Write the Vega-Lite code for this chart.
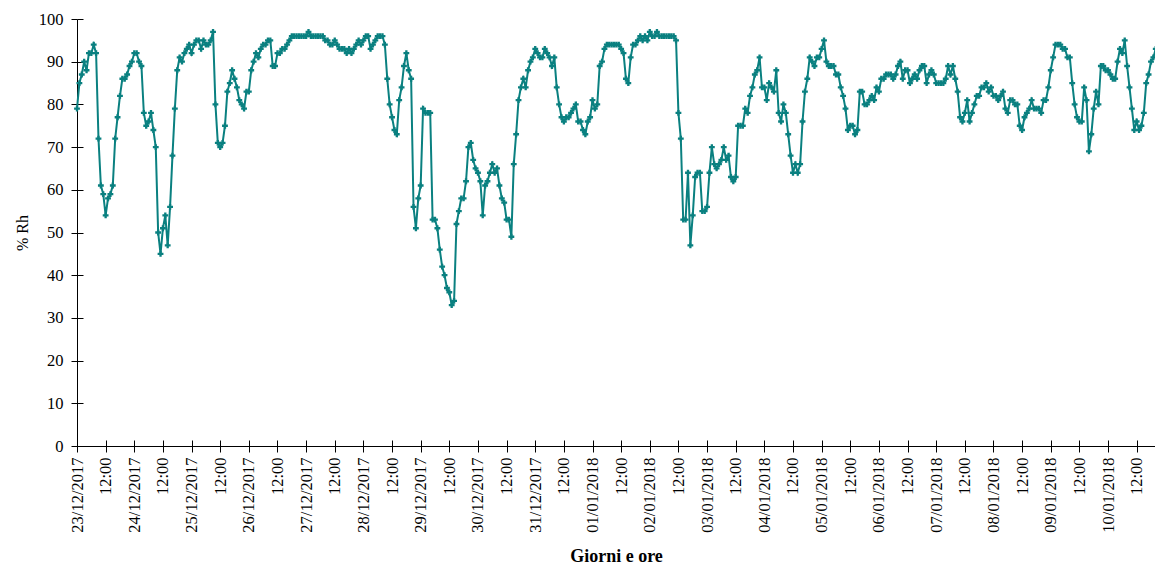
{
"$schema": "https://vega.github.io/schema/vega-lite/v6.json",
"width": 1078, "height": 427,
"autosize": {"type": "none"},
"padding": {"left": 77, "top": 19, "right": 0, "bottom": 119},
"background": "white",
"config": {"view": {"stroke": null}},
"data": {"values": [
{"t":"2017-12-23T00:00","rh":79},{"t":"2017-12-23T01:00","rh":85},{"t":"2017-12-23T02:00","rh":87},{"t":"2017-12-23T03:00","rh":90},{"t":"2017-12-23T04:00","rh":88},{"t":"2017-12-23T05:00","rh":92},{"t":"2017-12-23T06:00","rh":92},{"t":"2017-12-23T07:00","rh":94},{"t":"2017-12-23T08:00","rh":92},{"t":"2017-12-23T09:00","rh":72},{"t":"2017-12-23T10:00","rh":61},{"t":"2017-12-23T11:00","rh":59},{"t":"2017-12-23T12:00","rh":54},{"t":"2017-12-23T13:00","rh":58},{"t":"2017-12-23T14:00","rh":59},{"t":"2017-12-23T15:00","rh":61},{"t":"2017-12-23T16:00","rh":72},{"t":"2017-12-23T17:00","rh":77},{"t":"2017-12-23T18:00","rh":82},{"t":"2017-12-23T19:00","rh":86},{"t":"2017-12-23T20:00","rh":86},{"t":"2017-12-23T21:00","rh":87},{"t":"2017-12-23T22:00","rh":89},{"t":"2017-12-23T23:00","rh":90},
{"t":"2017-12-24T00:00","rh":92},{"t":"2017-12-24T01:00","rh":92},{"t":"2017-12-24T02:00","rh":90},{"t":"2017-12-24T03:00","rh":89},{"t":"2017-12-24T04:00","rh":78},{"t":"2017-12-24T05:00","rh":75},{"t":"2017-12-24T06:00","rh":76},{"t":"2017-12-24T07:00","rh":78},{"t":"2017-12-24T08:00","rh":74},{"t":"2017-12-24T09:00","rh":70},{"t":"2017-12-24T10:00","rh":50},{"t":"2017-12-24T11:00","rh":45},{"t":"2017-12-24T12:00","rh":51},{"t":"2017-12-24T13:00","rh":54},{"t":"2017-12-24T14:00","rh":47},{"t":"2017-12-24T15:00","rh":56},{"t":"2017-12-24T16:00","rh":68},{"t":"2017-12-24T17:00","rh":79},{"t":"2017-12-24T18:00","rh":88},{"t":"2017-12-24T19:00","rh":91},{"t":"2017-12-24T20:00","rh":90},{"t":"2017-12-24T21:00","rh":92},{"t":"2017-12-24T22:00","rh":93},{"t":"2017-12-24T23:00","rh":94},
{"t":"2017-12-25T00:00","rh":92},{"t":"2017-12-25T01:00","rh":94},{"t":"2017-12-25T02:00","rh":95},{"t":"2017-12-25T03:00","rh":95},{"t":"2017-12-25T04:00","rh":93},{"t":"2017-12-25T05:00","rh":95},{"t":"2017-12-25T06:00","rh":94},{"t":"2017-12-25T07:00","rh":94},{"t":"2017-12-25T08:00","rh":95},{"t":"2017-12-25T09:00","rh":97},{"t":"2017-12-25T10:00","rh":80},{"t":"2017-12-25T11:00","rh":71},{"t":"2017-12-25T12:00","rh":70},{"t":"2017-12-25T13:00","rh":71},{"t":"2017-12-25T14:00","rh":75},{"t":"2017-12-25T15:00","rh":83},{"t":"2017-12-25T16:00","rh":85},{"t":"2017-12-25T17:00","rh":88},{"t":"2017-12-25T18:00","rh":86},{"t":"2017-12-25T19:00","rh":84},{"t":"2017-12-25T20:00","rh":81},{"t":"2017-12-25T21:00","rh":80},{"t":"2017-12-25T22:00","rh":79},{"t":"2017-12-25T23:00","rh":83},
{"t":"2017-12-26T00:00","rh":83},{"t":"2017-12-26T01:00","rh":88},{"t":"2017-12-26T02:00","rh":90},{"t":"2017-12-26T03:00","rh":92},{"t":"2017-12-26T04:00","rh":91},{"t":"2017-12-26T05:00","rh":93},{"t":"2017-12-26T06:00","rh":94},{"t":"2017-12-26T07:00","rh":94},{"t":"2017-12-26T08:00","rh":95},{"t":"2017-12-26T09:00","rh":95},{"t":"2017-12-26T10:00","rh":89},{"t":"2017-12-26T11:00","rh":89},{"t":"2017-12-26T12:00","rh":92},{"t":"2017-12-26T13:00","rh":92},{"t":"2017-12-26T14:00","rh":93},{"t":"2017-12-26T15:00","rh":93},{"t":"2017-12-26T16:00","rh":94},{"t":"2017-12-26T17:00","rh":95},{"t":"2017-12-26T18:00","rh":96},{"t":"2017-12-26T19:00","rh":96},{"t":"2017-12-26T20:00","rh":96},{"t":"2017-12-26T21:00","rh":96},{"t":"2017-12-26T22:00","rh":96},{"t":"2017-12-26T23:00","rh":96},
{"t":"2017-12-27T00:00","rh":96},{"t":"2017-12-27T01:00","rh":97},{"t":"2017-12-27T02:00","rh":96},{"t":"2017-12-27T03:00","rh":96},{"t":"2017-12-27T04:00","rh":96},{"t":"2017-12-27T05:00","rh":96},{"t":"2017-12-27T06:00","rh":96},{"t":"2017-12-27T07:00","rh":96},{"t":"2017-12-27T08:00","rh":95},{"t":"2017-12-27T09:00","rh":95},{"t":"2017-12-27T10:00","rh":94},{"t":"2017-12-27T11:00","rh":94},{"t":"2017-12-27T12:00","rh":95},{"t":"2017-12-27T13:00","rh":94},{"t":"2017-12-27T14:00","rh":93},{"t":"2017-12-27T15:00","rh":93},{"t":"2017-12-27T16:00","rh":93},{"t":"2017-12-27T17:00","rh":92},{"t":"2017-12-27T18:00","rh":93},{"t":"2017-12-27T19:00","rh":92},{"t":"2017-12-27T20:00","rh":93},{"t":"2017-12-27T21:00","rh":94},{"t":"2017-12-27T22:00","rh":95},{"t":"2017-12-27T23:00","rh":94},
{"t":"2017-12-28T00:00","rh":95},{"t":"2017-12-28T01:00","rh":96},{"t":"2017-12-28T02:00","rh":96},{"t":"2017-12-28T03:00","rh":93},{"t":"2017-12-28T04:00","rh":94},{"t":"2017-12-28T05:00","rh":95},{"t":"2017-12-28T06:00","rh":96},{"t":"2017-12-28T07:00","rh":96},{"t":"2017-12-28T08:00","rh":96},{"t":"2017-12-28T09:00","rh":94},{"t":"2017-12-28T10:00","rh":86},{"t":"2017-12-28T11:00","rh":80},{"t":"2017-12-28T12:00","rh":77},{"t":"2017-12-28T13:00","rh":74},{"t":"2017-12-28T14:00","rh":73},{"t":"2017-12-28T15:00","rh":81},{"t":"2017-12-28T16:00","rh":84},{"t":"2017-12-28T17:00","rh":89},{"t":"2017-12-28T18:00","rh":92},{"t":"2017-12-28T19:00","rh":88},{"t":"2017-12-28T20:00","rh":86},{"t":"2017-12-28T21:00","rh":56},{"t":"2017-12-28T22:00","rh":51},{"t":"2017-12-28T23:00","rh":58},
{"t":"2017-12-29T00:00","rh":61},{"t":"2017-12-29T01:00","rh":79},{"t":"2017-12-29T02:00","rh":78},{"t":"2017-12-29T03:00","rh":78},{"t":"2017-12-29T04:00","rh":78},{"t":"2017-12-29T05:00","rh":53},{"t":"2017-12-29T06:00","rh":53},{"t":"2017-12-29T07:00","rh":51},{"t":"2017-12-29T08:00","rh":46},{"t":"2017-12-29T09:00","rh":42},{"t":"2017-12-29T10:00","rh":40},{"t":"2017-12-29T11:00","rh":37},{"t":"2017-12-29T12:00","rh":36},{"t":"2017-12-29T13:00","rh":33},{"t":"2017-12-29T14:00","rh":34},{"t":"2017-12-29T15:00","rh":52},{"t":"2017-12-29T16:00","rh":55},{"t":"2017-12-29T17:00","rh":58},{"t":"2017-12-29T18:00","rh":58},{"t":"2017-12-29T19:00","rh":62},{"t":"2017-12-29T20:00","rh":70},{"t":"2017-12-29T21:00","rh":71},{"t":"2017-12-29T22:00","rh":67},{"t":"2017-12-29T23:00","rh":65},
{"t":"2017-12-30T00:00","rh":64},{"t":"2017-12-30T01:00","rh":62},{"t":"2017-12-30T02:00","rh":54},{"t":"2017-12-30T03:00","rh":61},{"t":"2017-12-30T04:00","rh":62},{"t":"2017-12-30T05:00","rh":64},{"t":"2017-12-30T06:00","rh":66},{"t":"2017-12-30T07:00","rh":64},{"t":"2017-12-30T08:00","rh":65},{"t":"2017-12-30T09:00","rh":61},{"t":"2017-12-30T10:00","rh":58},{"t":"2017-12-30T11:00","rh":57},{"t":"2017-12-30T12:00","rh":53},{"t":"2017-12-30T13:00","rh":53},{"t":"2017-12-30T14:00","rh":49},{"t":"2017-12-30T15:00","rh":66},{"t":"2017-12-30T16:00","rh":73},{"t":"2017-12-30T17:00","rh":81},{"t":"2017-12-30T18:00","rh":84},{"t":"2017-12-30T19:00","rh":86},{"t":"2017-12-30T20:00","rh":84},{"t":"2017-12-30T21:00","rh":88},{"t":"2017-12-30T22:00","rh":90},{"t":"2017-12-30T23:00","rh":91},
{"t":"2017-12-31T00:00","rh":93},{"t":"2017-12-31T01:00","rh":92},{"t":"2017-12-31T02:00","rh":91},{"t":"2017-12-31T03:00","rh":91},{"t":"2017-12-31T04:00","rh":93},{"t":"2017-12-31T05:00","rh":92},{"t":"2017-12-31T06:00","rh":91},{"t":"2017-12-31T07:00","rh":89},{"t":"2017-12-31T08:00","rh":91},{"t":"2017-12-31T09:00","rh":84},{"t":"2017-12-31T10:00","rh":80},{"t":"2017-12-31T11:00","rh":77},{"t":"2017-12-31T12:00","rh":76},{"t":"2017-12-31T13:00","rh":77},{"t":"2017-12-31T14:00","rh":77},{"t":"2017-12-31T15:00","rh":78},{"t":"2017-12-31T16:00","rh":79},{"t":"2017-12-31T17:00","rh":80},{"t":"2017-12-31T18:00","rh":76},{"t":"2017-12-31T19:00","rh":76},{"t":"2017-12-31T20:00","rh":74},{"t":"2017-12-31T21:00","rh":73},{"t":"2017-12-31T22:00","rh":76},{"t":"2017-12-31T23:00","rh":77},
{"t":"2018-01-01T00:00","rh":81},{"t":"2018-01-01T01:00","rh":79},{"t":"2018-01-01T02:00","rh":80},{"t":"2018-01-01T03:00","rh":89},{"t":"2018-01-01T04:00","rh":90},{"t":"2018-01-01T05:00","rh":93},{"t":"2018-01-01T06:00","rh":94},{"t":"2018-01-01T07:00","rh":94},{"t":"2018-01-01T08:00","rh":94},{"t":"2018-01-01T09:00","rh":94},{"t":"2018-01-01T10:00","rh":94},{"t":"2018-01-01T11:00","rh":94},{"t":"2018-01-01T12:00","rh":93},{"t":"2018-01-01T13:00","rh":92},{"t":"2018-01-01T14:00","rh":86},{"t":"2018-01-01T15:00","rh":85},{"t":"2018-01-01T16:00","rh":91},{"t":"2018-01-01T17:00","rh":94},{"t":"2018-01-01T18:00","rh":94},{"t":"2018-01-01T19:00","rh":95},{"t":"2018-01-01T20:00","rh":96},{"t":"2018-01-01T21:00","rh":95},{"t":"2018-01-01T22:00","rh":96},{"t":"2018-01-01T23:00","rh":95},
{"t":"2018-01-02T00:00","rh":97},{"t":"2018-01-02T01:00","rh":96},{"t":"2018-01-02T02:00","rh":96},{"t":"2018-01-02T03:00","rh":97},{"t":"2018-01-02T04:00","rh":96},{"t":"2018-01-02T05:00","rh":96},{"t":"2018-01-02T06:00","rh":96},{"t":"2018-01-02T07:00","rh":96},{"t":"2018-01-02T08:00","rh":96},{"t":"2018-01-02T09:00","rh":96},{"t":"2018-01-02T10:00","rh":96},{"t":"2018-01-02T11:00","rh":95},{"t":"2018-01-02T12:00","rh":78},{"t":"2018-01-02T13:00","rh":72},{"t":"2018-01-02T14:00","rh":53},{"t":"2018-01-02T15:00","rh":53},{"t":"2018-01-02T16:00","rh":64},{"t":"2018-01-02T17:00","rh":47},{"t":"2018-01-02T18:00","rh":54},{"t":"2018-01-02T19:00","rh":63},{"t":"2018-01-02T20:00","rh":64},{"t":"2018-01-02T21:00","rh":64},{"t":"2018-01-02T22:00","rh":55},{"t":"2018-01-02T23:00","rh":55},
{"t":"2018-01-03T00:00","rh":56},{"t":"2018-01-03T01:00","rh":64},{"t":"2018-01-03T02:00","rh":70},{"t":"2018-01-03T03:00","rh":66},{"t":"2018-01-03T04:00","rh":65},{"t":"2018-01-03T05:00","rh":66},{"t":"2018-01-03T06:00","rh":67},{"t":"2018-01-03T07:00","rh":70},{"t":"2018-01-03T08:00","rh":67},{"t":"2018-01-03T09:00","rh":68},{"t":"2018-01-03T10:00","rh":63},{"t":"2018-01-03T11:00","rh":62},{"t":"2018-01-03T12:00","rh":63},{"t":"2018-01-03T13:00","rh":75},{"t":"2018-01-03T14:00","rh":75},{"t":"2018-01-03T15:00","rh":75},{"t":"2018-01-03T16:00","rh":79},{"t":"2018-01-03T17:00","rh":78},{"t":"2018-01-03T18:00","rh":82},{"t":"2018-01-03T19:00","rh":84},{"t":"2018-01-03T20:00","rh":87},{"t":"2018-01-03T21:00","rh":88},{"t":"2018-01-03T22:00","rh":91},{"t":"2018-01-03T23:00","rh":84},
{"t":"2018-01-04T00:00","rh":84},{"t":"2018-01-04T01:00","rh":81},{"t":"2018-01-04T02:00","rh":85},{"t":"2018-01-04T03:00","rh":84},{"t":"2018-01-04T04:00","rh":83},{"t":"2018-01-04T05:00","rh":88},{"t":"2018-01-04T06:00","rh":78},{"t":"2018-01-04T07:00","rh":76},{"t":"2018-01-04T08:00","rh":80},{"t":"2018-01-04T09:00","rh":78},{"t":"2018-01-04T10:00","rh":73},{"t":"2018-01-04T11:00","rh":68},{"t":"2018-01-04T12:00","rh":64},{"t":"2018-01-04T13:00","rh":66},{"t":"2018-01-04T14:00","rh":64},{"t":"2018-01-04T15:00","rh":66},{"t":"2018-01-04T16:00","rh":76},{"t":"2018-01-04T17:00","rh":83},{"t":"2018-01-04T18:00","rh":86},{"t":"2018-01-04T19:00","rh":91},{"t":"2018-01-04T20:00","rh":90},{"t":"2018-01-04T21:00","rh":89},{"t":"2018-01-04T22:00","rh":91},{"t":"2018-01-04T23:00","rh":91},
{"t":"2018-01-05T00:00","rh":93},{"t":"2018-01-05T01:00","rh":95},{"t":"2018-01-05T02:00","rh":90},{"t":"2018-01-05T03:00","rh":89},{"t":"2018-01-05T04:00","rh":89},{"t":"2018-01-05T05:00","rh":89},{"t":"2018-01-05T06:00","rh":87},{"t":"2018-01-05T07:00","rh":87},{"t":"2018-01-05T08:00","rh":84},{"t":"2018-01-05T09:00","rh":82},{"t":"2018-01-05T10:00","rh":79},{"t":"2018-01-05T11:00","rh":74},{"t":"2018-01-05T12:00","rh":75},{"t":"2018-01-05T13:00","rh":75},{"t":"2018-01-05T14:00","rh":73},{"t":"2018-01-05T15:00","rh":74},{"t":"2018-01-05T16:00","rh":83},{"t":"2018-01-05T17:00","rh":83},{"t":"2018-01-05T18:00","rh":80},{"t":"2018-01-05T19:00","rh":80},{"t":"2018-01-05T20:00","rh":81},{"t":"2018-01-05T21:00","rh":82},{"t":"2018-01-05T22:00","rh":81},{"t":"2018-01-05T23:00","rh":84},
{"t":"2018-01-06T00:00","rh":83},{"t":"2018-01-06T01:00","rh":86},{"t":"2018-01-06T02:00","rh":86},{"t":"2018-01-06T03:00","rh":87},{"t":"2018-01-06T04:00","rh":87},{"t":"2018-01-06T05:00","rh":87},{"t":"2018-01-06T06:00","rh":86},{"t":"2018-01-06T07:00","rh":87},{"t":"2018-01-06T08:00","rh":89},{"t":"2018-01-06T09:00","rh":90},{"t":"2018-01-06T10:00","rh":86},{"t":"2018-01-06T11:00","rh":88},{"t":"2018-01-06T12:00","rh":88},{"t":"2018-01-06T13:00","rh":85},{"t":"2018-01-06T14:00","rh":86},{"t":"2018-01-06T15:00","rh":87},{"t":"2018-01-06T16:00","rh":86},{"t":"2018-01-06T17:00","rh":88},{"t":"2018-01-06T18:00","rh":89},{"t":"2018-01-06T19:00","rh":89},{"t":"2018-01-06T20:00","rh":85},{"t":"2018-01-06T21:00","rh":87},{"t":"2018-01-06T22:00","rh":88},{"t":"2018-01-06T23:00","rh":87},
{"t":"2018-01-07T00:00","rh":85},{"t":"2018-01-07T01:00","rh":85},{"t":"2018-01-07T02:00","rh":85},{"t":"2018-01-07T03:00","rh":85},{"t":"2018-01-07T04:00","rh":86},{"t":"2018-01-07T05:00","rh":89},{"t":"2018-01-07T06:00","rh":87},{"t":"2018-01-07T07:00","rh":89},{"t":"2018-01-07T08:00","rh":86},{"t":"2018-01-07T09:00","rh":83},{"t":"2018-01-07T10:00","rh":77},{"t":"2018-01-07T11:00","rh":76},{"t":"2018-01-07T12:00","rh":78},{"t":"2018-01-07T13:00","rh":81},{"t":"2018-01-07T14:00","rh":76},{"t":"2018-01-07T15:00","rh":78},{"t":"2018-01-07T16:00","rh":80},{"t":"2018-01-07T17:00","rh":82},{"t":"2018-01-07T18:00","rh":82},{"t":"2018-01-07T19:00","rh":84},{"t":"2018-01-07T20:00","rh":84},{"t":"2018-01-07T21:00","rh":85},{"t":"2018-01-07T22:00","rh":83},{"t":"2018-01-07T23:00","rh":84},
{"t":"2018-01-08T00:00","rh":82},{"t":"2018-01-08T01:00","rh":82},{"t":"2018-01-08T02:00","rh":81},{"t":"2018-01-08T03:00","rh":82},{"t":"2018-01-08T04:00","rh":83},{"t":"2018-01-08T05:00","rh":79},{"t":"2018-01-08T06:00","rh":78},{"t":"2018-01-08T07:00","rh":81},{"t":"2018-01-08T08:00","rh":81},{"t":"2018-01-08T09:00","rh":80},{"t":"2018-01-08T10:00","rh":80},{"t":"2018-01-08T11:00","rh":75},{"t":"2018-01-08T12:00","rh":74},{"t":"2018-01-08T13:00","rh":77},{"t":"2018-01-08T14:00","rh":78},{"t":"2018-01-08T15:00","rh":79},{"t":"2018-01-08T16:00","rh":81},{"t":"2018-01-08T17:00","rh":79},{"t":"2018-01-08T18:00","rh":79},{"t":"2018-01-08T19:00","rh":79},{"t":"2018-01-08T20:00","rh":78},{"t":"2018-01-08T21:00","rh":81},{"t":"2018-01-08T22:00","rh":81},{"t":"2018-01-08T23:00","rh":84},
{"t":"2018-01-09T00:00","rh":88},{"t":"2018-01-09T01:00","rh":91},{"t":"2018-01-09T02:00","rh":94},{"t":"2018-01-09T03:00","rh":94},{"t":"2018-01-09T04:00","rh":94},{"t":"2018-01-09T05:00","rh":93},{"t":"2018-01-09T06:00","rh":93},{"t":"2018-01-09T07:00","rh":91},{"t":"2018-01-09T08:00","rh":91},{"t":"2018-01-09T09:00","rh":85},{"t":"2018-01-09T10:00","rh":80},{"t":"2018-01-09T11:00","rh":77},{"t":"2018-01-09T12:00","rh":76},{"t":"2018-01-09T13:00","rh":76},{"t":"2018-01-09T14:00","rh":84},{"t":"2018-01-09T15:00","rh":81},{"t":"2018-01-09T16:00","rh":69},{"t":"2018-01-09T17:00","rh":73},{"t":"2018-01-09T18:00","rh":79},{"t":"2018-01-09T19:00","rh":83},{"t":"2018-01-09T20:00","rh":80},{"t":"2018-01-09T21:00","rh":89},{"t":"2018-01-09T22:00","rh":89},{"t":"2018-01-09T23:00","rh":88},
{"t":"2018-01-10T00:00","rh":88},{"t":"2018-01-10T01:00","rh":87},{"t":"2018-01-10T02:00","rh":86},{"t":"2018-01-10T03:00","rh":86},{"t":"2018-01-10T04:00","rh":90},{"t":"2018-01-10T05:00","rh":93},{"t":"2018-01-10T06:00","rh":92},{"t":"2018-01-10T07:00","rh":95},{"t":"2018-01-10T08:00","rh":89},{"t":"2018-01-10T09:00","rh":84},{"t":"2018-01-10T10:00","rh":79},{"t":"2018-01-10T11:00","rh":74},{"t":"2018-01-10T12:00","rh":76},{"t":"2018-01-10T13:00","rh":74},{"t":"2018-01-10T14:00","rh":75},{"t":"2018-01-10T15:00","rh":78},{"t":"2018-01-10T16:00","rh":85},{"t":"2018-01-10T17:00","rh":87},{"t":"2018-01-10T18:00","rh":90},{"t":"2018-01-10T19:00","rh":91},{"t":"2018-01-10T20:00","rh":93}
]},
"encoding": {
  "x": {"field": "t", "type": "temporal",
    "scale": {"domain": ["2017-12-23T00:00", "2018-01-10T19:41"], "nice": false},
    "axis": {"title": "Giorni e ore", "titleFont": "Liberation Serif", "titleFontSize": 18, "titleFontWeight": "bold", "titleColor": "black", "titlePadding": 15,
      "values": ["2017-12-23T00:00","2017-12-23T12:00","2017-12-24T00:00","2017-12-24T12:00","2017-12-25T00:00","2017-12-25T12:00","2017-12-26T00:00","2017-12-26T12:00","2017-12-27T00:00","2017-12-27T12:00","2017-12-28T00:00","2017-12-28T12:00","2017-12-29T00:00","2017-12-29T12:00","2017-12-30T00:00","2017-12-30T12:00","2017-12-31T00:00","2017-12-31T12:00","2018-01-01T00:00","2018-01-01T12:00","2018-01-02T00:00","2018-01-02T12:00","2018-01-03T00:00","2018-01-03T12:00","2018-01-04T00:00","2018-01-04T12:00","2018-01-05T00:00","2018-01-05T12:00","2018-01-06T00:00","2018-01-06T12:00","2018-01-07T00:00","2018-01-07T12:00","2018-01-08T00:00","2018-01-08T12:00","2018-01-09T00:00","2018-01-09T12:00","2018-01-10T00:00","2018-01-10T12:00"],
      "format": "%d/%m/%Y",
      "labelExpr": "timeFormat(datum.value, '%H') == '12' ? '12:00' : datum.label",
      "labelAngle": 270, "labelAlign": "right", "labelBaseline": "middle",
      "labelFont": "Liberation Serif", "labelFontSize": 16.5, "labelColor": "black", "labelPadding": 5,
      "labelOverlap": false, "labelFlush": false, "labelBound": false,
      "tickColor": "black", "tickSize": 6, "domainColor": "black", "grid": false}},
  "y": {"field": "rh", "type": "quantitative",
    "scale": {"domain": [0, 100], "nice": false},
    "axis": {"title": "% Rh", "values": [0,10,20,30,40,50,60,70,80,90,100],
      "titleFont": "Liberation Serif", "titleFontSize": 16, "titleFontWeight": "normal", "titleColor": "black", "titlePadding": 8,
      "labelFont": "Liberation Serif", "labelFontSize": 16.5, "labelColor": "black", "labelPadding": 8,
      "tickColor": "black", "tickSize": 6, "domainColor": "black", "grid": false}}
},
"layer": [
  {"mark": {"type": "line", "color": "#0a8080", "strokeWidth": 2}},
  {"mark": {"type": "point", "shape": "cross", "filled": true, "size": 34, "color": "#0a8080", "opacity": 1},
   "encoding": {
     "x": {"field": "t", "type": "temporal",
       "axis": {"orient": "bottom", "title": null, "labels": false, "domain": false, "grid": false, "tickColor": "black", "tickSize": -6,
         "values": ["2017-12-23T00:00","2017-12-23T12:00","2017-12-24T00:00","2017-12-24T12:00","2017-12-25T00:00","2017-12-25T12:00","2017-12-26T00:00","2017-12-26T12:00","2017-12-27T00:00","2017-12-27T12:00","2017-12-28T00:00","2017-12-28T12:00","2017-12-29T00:00","2017-12-29T12:00","2017-12-30T00:00","2017-12-30T12:00","2017-12-31T00:00","2017-12-31T12:00","2018-01-01T00:00","2018-01-01T12:00","2018-01-02T00:00","2018-01-02T12:00","2018-01-03T00:00","2018-01-03T12:00","2018-01-04T00:00","2018-01-04T12:00","2018-01-05T00:00","2018-01-05T12:00","2018-01-06T00:00","2018-01-06T12:00","2018-01-07T00:00","2018-01-07T12:00","2018-01-08T00:00","2018-01-08T12:00","2018-01-09T00:00","2018-01-09T12:00","2018-01-10T00:00","2018-01-10T12:00"]}},
     "y": {"field": "rh", "type": "quantitative",
       "axis": {"orient": "left", "title": null, "labels": false, "domain": false, "grid": false, "tickColor": "black", "tickSize": -6, "values": [0,10,20,30,40,50,60,70,80,90,100]}}
   }}
],
"resolve": {"axis": {"x": "independent", "y": "independent"}}
}
